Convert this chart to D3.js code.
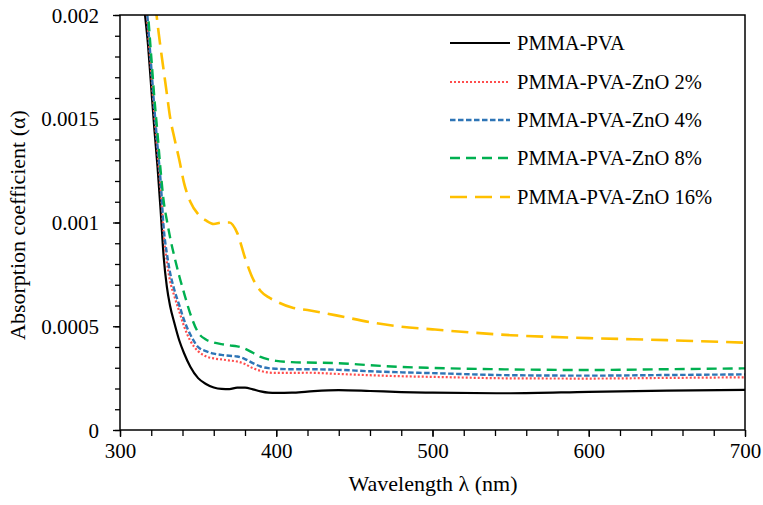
<!DOCTYPE html>
<html>
<head>
<meta charset="utf-8">
<script src="https://cdn.jsdelivr.net/npm/d3@7"></script>
<style>
  html, body { margin: 0; padding: 0; background: #fff; }
  svg text, text, .tick text { font-family: "Liberation Serif", serif !important; }
</style>
</head>
<body>
<svg id="chart" width="763" height="505" font-family="Liberation Serif"></svg>
<script>
// ---- data ----
const wavelengths = [316,318,320,322,324,326,328,330,332,335,338,341,345,350,355,360,365,370,375,380,385,390,395,400,410,420,440,460,480,500,550,600,650,700];

const pmmaPva = [0.0020,0.00185,0.00165,0.00145,0.00127,0.00106,0.00083,0.00069,0.0006,0.00051,0.00043,0.00037,0.000305,0.00025,0.000222,0.000205,0.000198,0.000197,0.000204,0.000204,0.000196,0.000186,0.00018,0.000179,0.00018,0.000185,0.000192,0.000188,0.000183,0.00018,0.000177,0.000184,0.00019,0.000193];

const zno2 = [0.0021,0.00192,0.00172,0.00152,0.00134,0.00116,0.00094,0.00081,0.00072,0.00064,0.00057,0.0005,0.00043,0.00038,0.000355,0.000345,0.00034,0.000335,0.00033,0.000318,0.000298,0.000285,0.000277,0.000275,0.000275,0.000276,0.00027,0.000264,0.000259,0.000256,0.000249,0.000248,0.000251,0.000254];

const zno4 = [0.00215,0.00195,0.00175,0.00155,0.00137,0.0012,0.00097,0.00085,0.00076,0.00067,0.0006,0.00053,0.00046,0.0004,0.00038,0.000368,0.000362,0.000358,0.000354,0.000342,0.000322,0.000306,0.000298,0.000295,0.000293,0.000293,0.00029,0.000283,0.000278,0.000274,0.000264,0.000262,0.000265,0.000268];

const zno8 = [0.0022,0.002,0.0018,0.0016,0.00143,0.00125,0.0011,0.00101,0.00093,0.00083,0.00074,0.00066,0.00056,0.00047,0.000436,0.000422,0.000414,0.000408,0.000403,0.000392,0.000372,0.000352,0.00034,0.000333,0.000327,0.000325,0.000322,0.000312,0.000304,0.000299,0.000292,0.000289,0.000293,0.000297];

const zno16 = [0.0029,0.0025,0.0023,0.0021,0.00196,0.00184,0.00173,0.00162,0.00151,0.0014,0.0013,0.00119,0.0011,0.00104,0.00101,0.000993,0.001,0.001,0.00095,0.00083,0.00073,0.00067,0.00064,0.00062,0.00059,0.000578,0.00055,0.00052,0.000498,0.000485,0.000457,0.000443,0.000433,0.000421];

const seriesNames = ["PMMA-PVA","PMMA-PVA-ZnO 2%","PMMA-PVA-ZnO 4%","PMMA-PVA-ZnO 8%","PMMA-PVA-ZnO 16%"];
const seriesValues = [pmmaPva, zno2, zno4, zno8, zno16];

const xTickValues = [300,400,500,600,700];
const yTickValues = [0,0.0005,0.001,0.0015,0.002];
const yTickLabels = ["0","0.0005","0.001","0.0015","0.002"];
const xTitle = "Wavelength \u03bb (nm)";
const yTitle = "Absorption coefficient (\u03b1)";

// ---- styles ----
const styles = [
  {color:"#000000", width:2.2, dash:null},
  {color:"#ff4d4d", width:2.2, dash:"2 2"},
  {color:"#2e75b6", width:2.4, dash:"5.5 2.5"},
  {color:"#00b050", width:2.4, dash:"10 6"},
  {color:"#ffc000", width:2.6, dash:"17 8"}
];

// ---- layout ----
const L = 120, R = 745, T = 15, B = 430;
const svg = d3.select("#chart");
const x = d3.scaleLinear().domain([300,700]).range([L,R]);
const y = d3.scaleLinear().domain([0,0.002]).range([B,T]);

function serif(sel, size) {
  sel.attr("style", `font-family: "Liberation Serif", serif !important; font-size: ${size} !important;`)
     .attr("fill", "#000");
  return sel;
}

svg.append("defs").append("clipPath").attr("id","plotclip")
  .append("rect").attr("x",L).attr("y",T).attr("width",R-L).attr("height",B-T);

// lines
const line = d3.line().x((d,i)=>x(wavelengths[i])).y(d=>y(d)).curve(d3.curveMonotoneX);
const gLines = svg.append("g").attr("clip-path","url(#plotclip)");
seriesValues.forEach((vals,k)=>{
  gLines.append("path").datum(vals)
    .attr("d", line)
    .attr("fill","none")
    .attr("stroke", styles[k].color)
    .attr("stroke-width", styles[k].width)
    .attr("stroke-dasharray", styles[k].dash)
    .attr("stroke-linejoin","round");
});

// frame
svg.append("rect").attr("x",L).attr("y",T).attr("width",R-L).attr("height",B-T)
  .attr("fill","none").attr("stroke","#000").attr("stroke-width",1.5);

// x axis ticks
const xAxisMinor = d3.axisBottom(x).tickValues(d3.range(300,701,20)).tickSize(6).tickFormat("");
const gxm = svg.append("g").attr("transform",`translate(0,${B})`).call(xAxisMinor);
gxm.select(".domain").remove();
gxm.selectAll("line").attr("stroke","#000").attr("stroke-width",1.3);

const xAxis = d3.axisBottom(x).tickValues(xTickValues).tickSize(7).tickPadding(8).tickFormat(d3.format("d"));
const gx = svg.append("g").attr("transform",`translate(0,${B})`).call(xAxis);
gx.attr("font-family","Liberation Serif");
gx.select(".domain").remove();
gx.selectAll("line").attr("stroke","#000").attr("stroke-width",1.3);
serif(gx.selectAll("text"), "21px").attr("y",28).attr("dy",0);

// y axis ticks
const yAxisMinor = d3.axisLeft(y).tickValues(d3.range(0,21).map(i=>i*0.0001)).tickSize(5).tickFormat("");
const gym = svg.append("g").attr("transform",`translate(${L},0)`).call(yAxisMinor);
gym.select(".domain").remove();
gym.selectAll("line").attr("stroke","#000").attr("stroke-width",1.3);

const yAxis = d3.axisLeft(y).tickValues(yTickValues).tickSize(7).tickPadding(14)
  .tickFormat((d,i)=>yTickLabels[i]);
const gy = svg.append("g").attr("transform",`translate(${L},0)`).call(yAxis);
gy.attr("font-family","Liberation Serif");
gy.select(".domain").remove();
gy.selectAll("line").attr("stroke","#000").attr("stroke-width",1.3);
serif(gy.selectAll("text"), "21px").attr("dy","0.34em");

// titles
serif(svg.append("text").attr("x",433).attr("y",491).attr("text-anchor","middle"), "22px").text(xTitle);
serif(svg.append("text").attr("transform","translate(25,225) rotate(-90)").attr("text-anchor","middle"), "22px").text(yTitle);

// legend
const legendY = [43,82,120,158,197];
const gLeg = svg.append("g");
seriesNames.forEach((name,k)=>{
  gLeg.append("line").attr("x1",450).attr("x2",510).attr("y1",legendY[k]).attr("y2",legendY[k])
    .attr("stroke",styles[k].color).attr("stroke-width",styles[k].width)
    .attr("stroke-dasharray",styles[k].dash);
  serif(gLeg.append("text").attr("x",517).attr("y",legendY[k]+7), "20.5px").text(name);
});
</script>
</body>
</html>
